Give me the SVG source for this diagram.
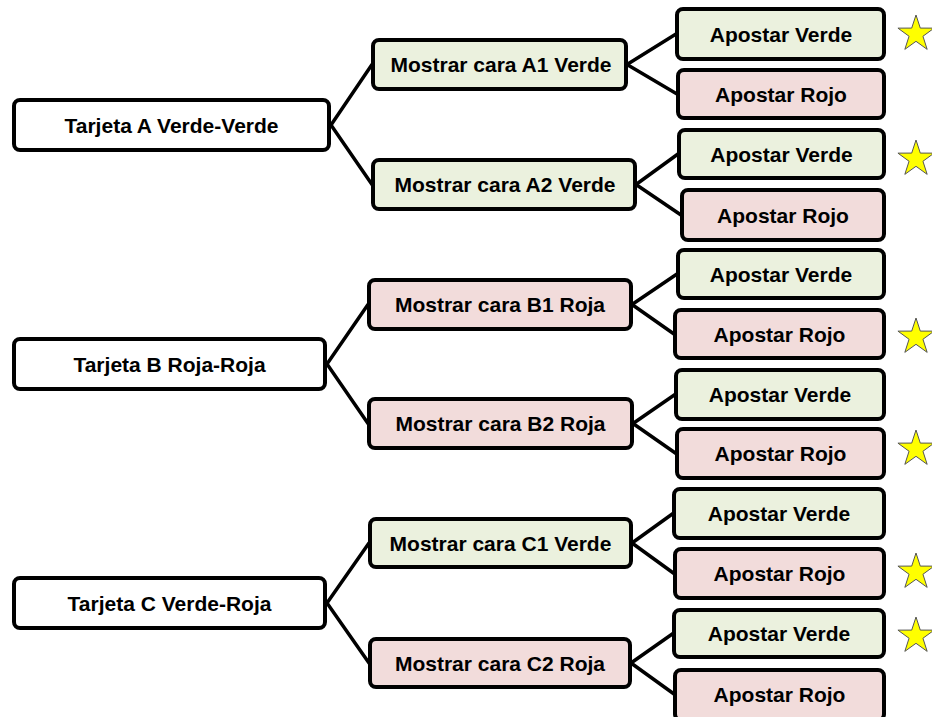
<svg xmlns="http://www.w3.org/2000/svg" xmlns:xlink="http://www.w3.org/1999/xlink" width="932" height="717" viewBox="0 0 932 717">
<defs>
<style>
.box{stroke:#000;stroke-width:4;}
.root{fill:#ffffff;}
.g{fill:#EBF1DE;}
.r{fill:#F2DCDB;}
text{font-family:"Liberation Sans",Arial,sans-serif;font-weight:bold;font-size:21px;fill:#000;text-anchor:middle;}
.conn line{stroke:#000;stroke-width:3.5;stroke-linecap:round;}
.star{fill:#FFFF00;stroke:#555;stroke-width:1;}
</style>
<polygon id="star" points="0,-19 4.29,-5.91 18.07,-5.87 6.94,2.26 11.17,15.37 0,7.3 -11.17,15.37 -6.94,2.26 -18.07,-5.87 -4.29,-5.91"/>
</defs>
<rect width="932" height="717" fill="#fff"/>
<g class="conn" id="connectors">
<line x1="331" y1="125" x2="372" y2="64.5"/>
<line x1="331" y1="125" x2="372" y2="184.5"/>
<line x1="327" y1="364" x2="368" y2="304.5"/>
<line x1="327" y1="364" x2="368" y2="423.5"/>
<line x1="327" y1="603" x2="369" y2="543"/>
<line x1="327" y1="603" x2="369" y2="663"/>
<line x1="627" y1="64.5" x2="676" y2="34"/>
<line x1="627" y1="64.5" x2="677" y2="94"/>
<line x1="636" y1="184.5" x2="678" y2="154"/>
<line x1="636" y1="184.5" x2="681" y2="215"/>
<line x1="632" y1="304.5" x2="677" y2="274"/>
<line x1="632" y1="304.5" x2="674" y2="334"/>
<line x1="633" y1="423.5" x2="675" y2="394.5"/>
<line x1="633" y1="423.5" x2="676" y2="453.5"/>
<line x1="632" y1="543" x2="673" y2="513.5"/>
<line x1="632" y1="543" x2="674" y2="573.5"/>
<line x1="631" y1="663" x2="673" y2="633.5"/>
<line x1="631" y1="663" x2="674" y2="694"/>
</g>
<g id="rootA"><rect class="box root" x="14" y="100" width="315" height="50" rx="6"/><text x="171.5" y="132.5">Tarjeta A Verde-Verde</text></g>
<g id="rootB"><rect class="box root" x="14" y="339" width="311" height="50" rx="6"/><text x="169.5" y="371.5">Tarjeta B Roja-Roja</text></g>
<g id="rootC"><rect class="box root" x="14" y="578" width="311" height="50" rx="6"/><text x="169.5" y="610.5">Tarjeta C Verde-Roja</text></g>
<g id="A1"><rect class="box g" x="373" y="40" width="253" height="49" rx="6"/><text x="501" y="72">Mostrar cara A1 Verde</text></g>
<g id="A2"><rect class="box g" x="373" y="160" width="262" height="49" rx="6"/><text x="505" y="192">Mostrar cara A2 Verde</text></g>
<g id="B1"><rect class="box r" x="369" y="280" width="262" height="49" rx="6"/><text x="500" y="312">Mostrar cara B1 Roja</text></g>
<g id="B2"><rect class="box r" x="369" y="399" width="263" height="49" rx="6"/><text x="500.5" y="431">Mostrar cara B2 Roja</text></g>
<g id="C1"><rect class="box g" x="370" y="519" width="261" height="48" rx="6"/><text x="500.5" y="550.5">Mostrar cara C1 Verde</text></g>
<g id="C2"><rect class="box r" x="370" y="639" width="260" height="48" rx="6"/><text x="500" y="670.5">Mostrar cara C2 Roja</text></g>
<g id="leaf1"><rect class="box g" x="677" y="9" width="207" height="50" rx="6"/><text x="781" y="41.5">Apostar Verde</text></g>
<g id="leaf2"><rect class="box r" x="678" y="70" width="206" height="48" rx="6"/><text x="781" y="101.5">Apostar Rojo</text></g>
<g id="leaf3"><rect class="box g" x="679" y="130" width="205" height="48" rx="6"/><text x="781.5" y="161.5">Apostar Verde</text></g>
<g id="leaf4"><rect class="box r" x="682" y="190" width="202" height="50" rx="6"/><text x="783" y="222.5">Apostar Rojo</text></g>
<g id="leaf5"><rect class="box g" x="678" y="250" width="206" height="48" rx="6"/><text x="781" y="281.5">Apostar Verde</text></g>
<g id="leaf6"><rect class="box r" x="675" y="310" width="209" height="48" rx="6"/><text x="779.5" y="341.5">Apostar Rojo</text></g>
<g id="leaf7"><rect class="box g" x="676" y="370" width="208" height="49" rx="6"/><text x="780" y="402">Apostar Verde</text></g>
<g id="leaf8"><rect class="box r" x="677" y="429" width="207" height="49" rx="6"/><text x="780.5" y="461">Apostar Rojo</text></g>
<g id="leaf9"><rect class="box g" x="674" y="489" width="210" height="49" rx="6"/><text x="779" y="521">Apostar Verde</text></g>
<g id="leaf10"><rect class="box r" x="675" y="549" width="209" height="49" rx="6"/><text x="779.5" y="581">Apostar Rojo</text></g>
<g id="leaf11"><rect class="box g" x="674" y="610" width="210" height="47" rx="6"/><text x="779" y="641">Apostar Verde</text></g>
<g id="leaf12"><rect class="box r" x="675" y="670" width="209" height="50" rx="6"/><text x="779.5" y="701.5">Apostar Rojo</text></g>
<g id="stars">
<use xlink:href="#star" class="star" x="916" y="34"/>
<use xlink:href="#star" class="star" x="916" y="159"/>
<use xlink:href="#star" class="star" x="916" y="337"/>
<use xlink:href="#star" class="star" x="916" y="449"/>
<use xlink:href="#star" class="star" x="916" y="572"/>
<use xlink:href="#star" class="star" x="916" y="636"/>
</g>
</svg>
